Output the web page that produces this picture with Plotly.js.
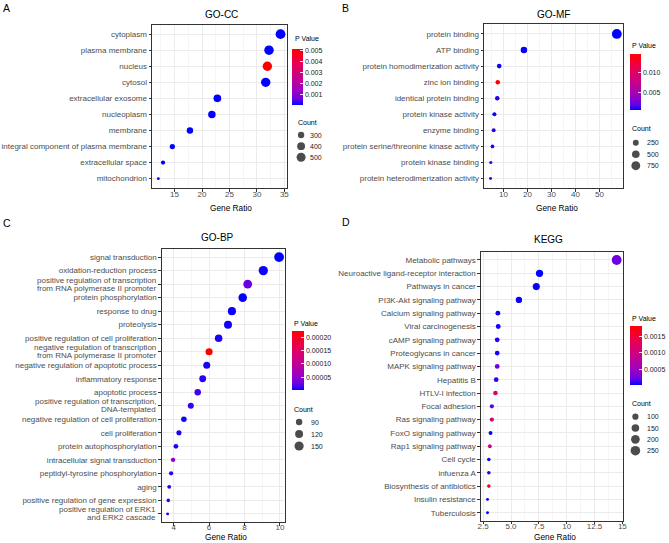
<!DOCTYPE html>
<html>
<head>
<meta charset="utf-8">
<script src="https://cdn.plot.ly/plotly-3.0.1.min.js"></script>
<style>html,body{margin:0;padding:0;background:#fff;}#chart{width:669px;height:543px;}</style>
</head>
<body>
<div id="chart"></div>
<script>
// ---------------- DATA ----------------
// GO-CC
const ccTerms = ['cytoplasm','plasma membrane','nucleus','cytosol','extracellular exosome','nucleoplasm','membrane','integral component of plasma membrane','extracellular space','mitochondrion'];
const ccRatio = [34.3, 32.2, 31.9, 31.6, 22.8, 21.8, 17.8, 14.6, 12.9, 12.05];
const ccCount = [583, 547, 542, 537, 388, 371, 303, 248, 219, 205];
const ccPValue = [2.1e-12, 3.4e-14, 0.0051, 5.6e-9, 1.2e-10, 7.8e-6, 2.4e-5, 1.1e-6, 3.2e-9, 4.5e-5];
const ccCountBreaks = [300, 400, 500];
const ccPTicks = [0.001, 0.002, 0.003, 0.004, 0.005];
const ccPTickText = ['0.001', '0.002', '0.003', '0.004', '0.005'];

// GO-MF
const mfTerms = ['protein binding','ATP binding','protein homodimerization activity','zinc ion binding','identical protein binding','protein kinase activity','enzyme binding','protein serine/threonine kinase activity','protein kinase binding','protein heterodimerization activity'];
const mfRatio = [57.2, 18.5, 8.2, 7.6, 7.4, 6.2, 5.9, 5.4, 4.7, 4.6];
const mfCount = [972, 315, 139, 129, 126, 105, 100, 92, 80, 78];
const mfPValue = [0.00052, 0.0006, 0.0008, 0.0145, 0.0009, 0.0007, 0.0011, 0.001, 0.0012, 0.0013];
const mfCountBreaks = [250, 500, 750];
const mfPTicks = [0.005, 0.010];
const mfPTickText = ['0.005', '0.010'];

// GO-BP
const bpTerms = ['signal transduction','oxidation-reduction process','positive regulation of transcription<br>from RNA polymerase II promoter','protein phosphorylation','response to drug','proteolysis','positive regulation of cell proliferation','negative regulation of transcription<br>from RNA polymerase II promoter','negative regulation of apoptotic process','inflammatory response','apoptotic process','positive regulation of transcription,<br>DNA-templated','negative regulation of cell proliferation','cell proliferation','protein autophosphorylation','intracellular signal transduction','peptidyl-tyrosine phosphorylation','aging','positive regulation of gene expression','positive regulation of ERK1<br>and ERK2 cascade'];
const bpRatio = [9.95, 9.06, 8.18, 7.9, 7.29, 7.07, 6.54, 6.0, 5.87, 5.64, 5.36, 4.97, 4.58, 4.3, 4.13, 3.97, 3.86, 3.75, 3.70, 3.66];
const bpCount = [169, 154, 139, 134, 124, 120, 111, 102, 100, 96, 91, 84, 78, 73, 70, 67, 66, 64, 63, 62];
const bpPValue = [4.1e-6, 6.2e-6, 2.6e-5, 5.0e-6, 7.5e-6, 8.1e-6, 1.0e-5, 0.000224, 9.0e-6, 1.2e-5, 1.8e-5, 1.6e-5, 8.8e-6, 9.5e-6, 1.1e-5, 5.2e-5, 1.3e-5, 1.0e-5, 1.4e-5, 1.2e-5];
const bpCountBreaks = [90, 120, 150];
const bpPTicks = [0.00005, 0.00010, 0.00015, 0.00020];
const bpPTickText = ['0.00005', '0.00010', '0.00015', '0.00020'];

// KEGG
const keggTerms = ['Metabolic pathways','Neuroactive ligand-receptor interaction','Pathways in cancer','PI3K-Akt signaling pathway','Calcium signaling pathway','Viral carcinogenesis','cAMP signaling pathway','Proteoglycans in cancer','MAPK signaling pathway','Hepatitis B','HTLV-I infection','Focal adhesion','Ras signaling pathway','FoxO signaling pathway','Rap1 signaling pathway','Cell cycle','infuenza A','Biosynthesis of antibiotics','Insulin resistance','Tuberculosis'];
const keggRatio = [14.49, 7.56, 7.27, 5.71, 3.82, 3.85, 3.76, 3.76, 3.76, 3.67, 3.6, 3.28, 3.28, 3.16, 3.1, 3.01, 3.01, 3.01, 2.89, 2.89];
const keggCount = [261, 136, 131, 103, 69, 69, 68, 68, 68, 66, 65, 59, 59, 57, 56, 54, 54, 54, 52, 52];
const keggPValue = [0.00025, 4.5e-5, 5.0e-5, 6.0e-5, 7.0e-5, 8.0e-5, 9.0e-5, 7.5e-5, 0.00027, 0.00012, 0.00118, 0.0002, 0.00105, 6.5e-5, 0.00098, 5.5e-5, 8.5e-5, 0.0018, 4.2e-5, 4.8e-5];
const keggCountBreaks = [100, 150, 200, 250];
const keggPTicks = [0.0005, 0.0010, 0.0015];
const keggPTickText = ['0.0005', '0.0010', '0.0015'];

const xTicksD = [2.5, 5, 7.5, 10, 12.5, 15];
const xTickTextD = ['2.5', '5.0', '7.5', '10', '12.5', '15'];

// ---------------- STYLE / LAYOUT ----------------
const FONT = 'Liberation Sans, Arial, Helvetica, sans-serif';
const W = 669, H = 543;
const px = v => v / W;
const py = v => 1 - v / H;
const colorscale = [[0,'#0000FF'],[0.1,'#6800E6'],[0.25,'#9A00C3'],[0.5,'#C90089'],[0.75,'#E80050'],[1,'#FF0000']];
const GRID = '#EBEBEB', BORDER = '#333333', TICKTXT = '#4D4D4D';

function dotSize(c, lo, hi) {
  const t = Math.max(0, Math.min(1, (c - lo) / (hi - lo)));
  return 2.9 + 6.9 * Math.sqrt(t);
}

const panels = [
  {letter:'A', title:'GO-CC', terms:ccTerms, ratio:ccRatio, count:ccCount, p:ccPValue, breaks:ccCountBreaks, pt:ccPTicks, ptt:ccPTickText,
   dtick:5, box:[152.7,287.5,24.5,188.3], titleXY:[222,14], letterXY:[1.5,7.5], axTitleXY:[231.5,208.3],
   cb:{x:293.3, top:49.3, len:55.7, th:10.7}, pTitleXY:[294,38.3], cTitleXY:[296.7,122.7], keyX:302, keyRows:[135,157.3], keyLabX:308.5},
  {letter:'B', title:'GO-MF', terms:mfTerms, ratio:mfRatio, count:mfCount, p:mfPValue, breaks:mfCountBreaks, pt:mfPTicks, ptt:mfPTickText,
   dtick:10, box:[485.7,625,24.3,188.2], titleXY:[555,14], letterXY:[341.5,7.5], axTitleXY:[558.5,207.7],
   cb:{x:632.3, top:54.3, len:55.7, th:11}, pTitleXY:[632,45.7], cTitleXY:[631.7,128.3], keyX:637.7, keyRows:[142.7,165.7], keyLabX:646.5},
  {letter:'C', title:'GO-BP', terms:bpTerms, ratio:bpRatio, count:bpCount, p:bpPValue, breaks:bpCountBreaks, pt:bpPTicks, ptt:bpPTickText,
   dtick:2, box:[162.5,285.5,249,522], titleXY:[218,237.7], letterXY:[1.5,222.7], axTitleXY:[227,537],
   cb:{x:293.3, top:330.7, len:59.3, th:12}, pTitleXY:[293.3,323], cTitleXY:[293.3,409], keyX:300, keyRows:[422,446], keyLabX:310},
  {letter:'D', title:'KEGG', terms:keggTerms, ratio:keggRatio, count:keggCount, p:keggPValue, breaks:keggCountBreaks, pt:keggPTicks, ptt:keggPTickText,
   dtick:2.5, tickvals:xTicksD, ticktext:xTickTextD, box:[482.5,625,252,520.7], titleXY:[550,239], letterXY:[341.5,221.7], axTitleXY:[557,537.3],
   cb:{x:631.7, top:326, len:59, th:11.6}, pTitleXY:[631.7,318.3], cTitleXY:[631.7,403.5], keyX:637.3, keyRows:[416.7,450.7], keyLabX:646.7}
];

const data = [];
const layout = {
  width: W, height: H, margin: {l:0, r:0, t:0, b:0},
  paper_bgcolor: '#fff', plot_bgcolor: '#fff',
  showlegend: false,
  font: {family: FONT, color: '#000'},
  annotations: []
};

const LINE_GAP = 7.8;     // spacing of wrapped label lines, px
const LABEL_OFFSET = 4.6; // annotation anchor offset left of the panel border, px

panels.forEach((P, i) => {
  const n = P.terms.length;
  const xa = 'x' + (i + 1), ya = 'y' + (i + 1);
  const ka = 'x' + (i + 5), kya = 'y' + (i + 5);
  const lo = Math.min(...P.count), hi = Math.max(...P.count);
  const rmin = Math.min(...P.ratio), rmax = Math.max(...P.ratio);
  const pr = rmax - rmin;
  const pmin = Math.min(...P.p), pmax = Math.max(...P.p);

  data.push({
    type: 'scatter', mode: 'markers', xaxis: xa, yaxis: ya,
    x: P.ratio, y: P.terms,
    marker: {
      size: P.count.map(c => dotSize(c, lo, hi)), sizemode: 'diameter',
      color: P.p, colorscale: colorscale, cmin: pmin, cmax: pmax,
      line: {width: 0}, opacity: 1,
      showscale: true,
      colorbar: {
        x: px(P.cb.x), xanchor: 'left', y: py(P.cb.top), yanchor: 'top',
        len: P.cb.len, lenmode: 'pixels', thickness: P.cb.th, thicknessmode: 'pixels',
        xpad: 0, ypad: 0, outlinewidth: 0, borderwidth: 0,
        tickmode: 'array', tickvals: P.pt, ticktext: P.ptt,
        ticks: 'inside', ticklen: 3, tickcolor: 'rgba(255,255,255,0.85)', tickwidth: 1,
        ticklabelstandoff: 1,
        tickfont: {size: 7, color: '#1a1a1a', family: FONT}
      }
    },
    hoverinfo: 'x+y'
  });

  const xaxis = {
    domain: [px(P.box[0]), px(P.box[1])], anchor: ya,
    range: [rmin - 0.05 * pr, rmax + 0.05 * pr],
    showline: true, mirror: true, linecolor: BORDER, linewidth: 1,
    ticks: 'outside', ticklen: 2.7, tickwidth: 1, tickcolor: BORDER,
    ticklabelstandoff: -5,
    tickfont: {size: 8, color: TICKTXT, family: FONT},
    showgrid: true, gridcolor: GRID, gridwidth: 1, zeroline: false,
    minor: {showgrid: true, gridcolor: GRID, gridwidth: 0.5, tickmode: 'linear', tick0: 0, dtick: P.dtick / 2, ticks: ''}
  };
  if (P.tickvals) { xaxis.tickmode = 'array'; xaxis.tickvals = P.tickvals; xaxis.ticktext = P.ticktext; }
  else { xaxis.tickmode = 'linear'; xaxis.tick0 = 0; xaxis.dtick = P.dtick; }
  layout['xaxis' + (i + 1)] = xaxis;

  // wrapped labels are drawn line by line (tighter line spacing than the axis allows)
  const wrapped = P.terms.map(t => t.indexOf('<br>') >= 0);
  layout['yaxis' + (i + 1)] = {
    domain: [py(P.box[3]), py(P.box[2])], anchor: xa,
    type: 'category', categoryorder: 'array', categoryarray: P.terms,
    tickmode: 'array', tickvals: P.terms, ticktext: P.terms.map((t, k) => wrapped[k] ? '' : t),
    range: [n - 0.4, -0.6],
    showline: true, mirror: true, linecolor: BORDER, linewidth: 1,
    ticks: 'outside', ticklen: 2.7, tickwidth: 1, tickcolor: BORDER,
    tickfont: {size: 8, color: TICKTXT, family: FONT},
    showgrid: true, gridcolor: GRID, gridwidth: 1, zeroline: false
  };
  P.terms.forEach((t, k) => {
    if (!wrapped[k]) return;
    const lines = t.split('<br>');
    lines.forEach((ln, j) => {
      layout.annotations.push({xref: 'paper', yref: ya, x: px(P.box[0] - LABEL_OFFSET), y: t,
        yshift: -(j - (lines.length - 1) / 2) * LINE_GAP, text: ln, showarrow: false, borderpad: 0,
        xanchor: 'right', yanchor: 'middle', font: {size: 8, color: TICKTXT, family: FONT}});
    });
  });

  // Count key (size legend)
  const nb = P.breaks.length;
  const s = (P.keyRows[1] - P.keyRows[0]) / (nb - 1);
  const idx = P.breaks.map((b, j) => j);
  data.push({
    type: 'scatter', mode: 'markers', xaxis: ka, yaxis: kya,
    x: P.breaks.map(() => 0), y: idx,
    marker: {size: P.breaks.map(b => dotSize(b, lo, hi)), color: '#000', line: {width: 0}},
    hoverinfo: 'skip'
  });
  layout['xaxis' + (i + 5)] = {domain: [px(P.keyX - 8), px(P.keyX + 8)], range: [-8, 8], visible: false, fixedrange: true, anchor: kya};
  layout['yaxis' + (i + 5)] = {domain: [py(P.keyRows[1] + s / 2), py(P.keyRows[0] - s / 2)], range: [nb - 0.5, -0.5], visible: false, fixedrange: true, anchor: ka};
  P.breaks.forEach((b, j) => {
    layout.annotations.push({xref: 'paper', yref: kya, x: px(P.keyLabX), y: j, text: String(b), showarrow: false,
      xanchor: 'left', yanchor: 'middle', font: {size: 7, color: '#1a1a1a', family: FONT}});
  });

  // Texts
  layout.annotations.push(
    {xref:'paper', yref:'paper', x: px(P.letterXY[0]), y: py(P.letterXY[1]), text: P.letter, showarrow:false, xanchor:'left', yanchor:'middle', font:{size:10.5, color:'#000', family:FONT}},
    {xref:'paper', yref:'paper', x: px(P.titleXY[0]), y: py(P.titleXY[1]), text: P.title, showarrow:false, xanchor:'center', yanchor:'middle', font:{size:10, color:'#000', family:FONT}},
    {xref:'paper', yref:'paper', x: px(P.axTitleXY[0]), y: py(P.axTitleXY[1]), text: 'Gene Ratio', showarrow:false, xanchor:'center', yanchor:'middle', font:{size:8.3, color:'#000', family:FONT}},
    {xref:'paper', yref:'paper', x: px(P.pTitleXY[0]), y: py(P.pTitleXY[1]), text: 'P Value', showarrow:false, xanchor:'left', yanchor:'middle', font:{size:7, color:'#000', family:FONT}},
    {xref:'paper', yref:'paper', x: px(P.cTitleXY[0]), y: py(P.cTitleXY[1]), text: 'Count', showarrow:false, xanchor:'left', yanchor:'middle', font:{size:7, color:'#000', family:FONT}}
  );
});

Plotly.newPlot('chart', data, layout, {displayModeBar: false, staticPlot: true});
</script>
</body>
</html>
